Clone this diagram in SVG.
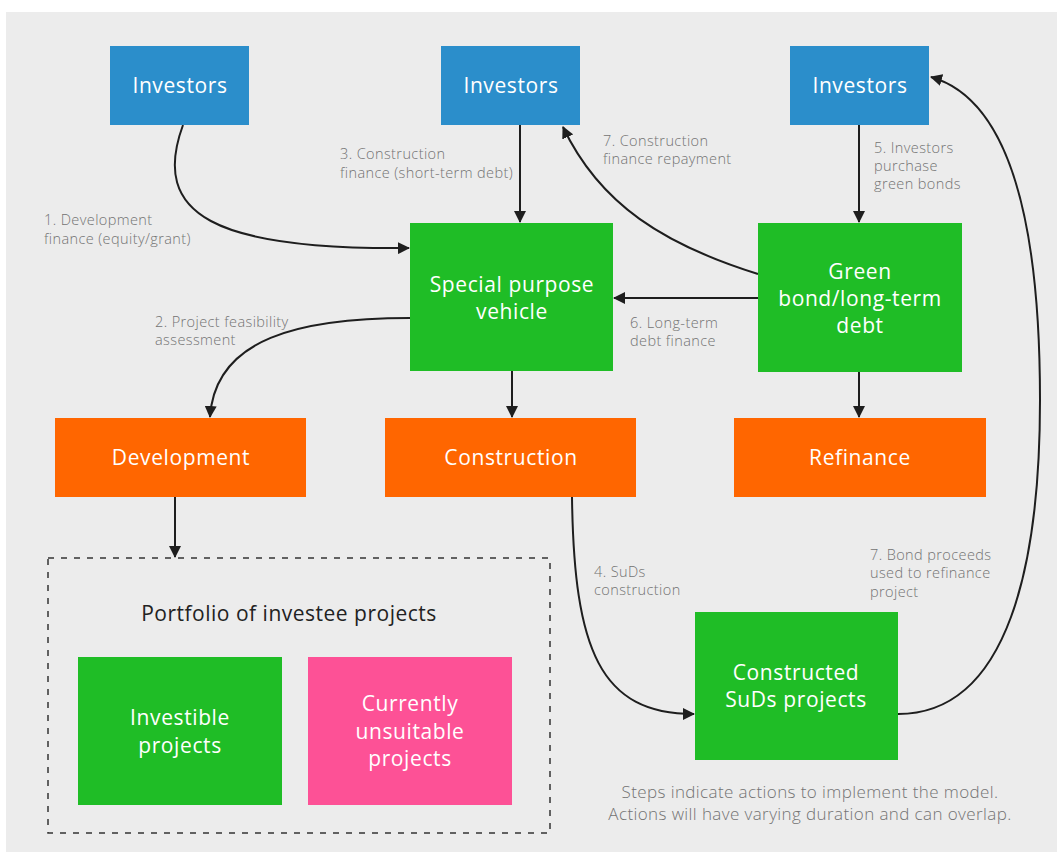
<svg xmlns="http://www.w3.org/2000/svg" width="1057" height="855" viewBox="0 0 1057 855">
  <defs>
    <marker id="arrow" viewBox="0 0 12 12" refX="11" refY="6" markerWidth="12" markerHeight="12" markerUnits="userSpaceOnUse" orient="auto">
      <path d="M0,0 L12,6 L0,12 Z" fill="#1e1e1e"/>
    </marker>
    <style>
      .blue { fill: #2b8ecb; }
      .green { fill: #1fbd26; }
      .orange { fill: #ff6600; }
      .pink { fill: #fd5196; }
      .node { font-family: "Open Sans", Lato, "Liberation Sans", sans-serif; font-size: 21px; letter-spacing: 0.6px; fill: #ffffff; text-anchor: middle; }
      .lbl { font-family: "Open Sans", Lato, "Liberation Sans", sans-serif; font-size: 14.5px; letter-spacing: 0.4px; font-weight: 300; fill: #737373; }
      .note { font-family: "Open Sans", Lato, "Liberation Sans", sans-serif; font-size: 17px; letter-spacing: 0.4px; font-weight: 300; fill: #737373; text-anchor: middle; }
      .title { font-family: "Open Sans", Lato, "Liberation Sans", sans-serif; font-size: 21px; letter-spacing: 0.5px; fill: #222222; text-anchor: middle; }
      .edge { fill: none; stroke: #1e1e1e; stroke-width: 2; marker-end: url(#arrow); }
    </style>
  </defs>

  <rect x="0" y="0" width="1057" height="855" fill="#ffffff"/>
  <rect x="6" y="12" width="1051" height="840" fill="#ececec"/>

  <!-- portfolio container -->
  <g id="portfolio">
    <rect x="48" y="558" width="502" height="275" fill="none" stroke="#333333" stroke-width="1.5" stroke-dasharray="6,7"/>
    <text class="title" x="289" y="621">Portfolio of investee projects</text>
  </g>

  <!-- connectors -->
  <g id="connectors">
    <path class="edge" d="M183,125 C150,215 215,250 409,248"/>
    <path class="edge" d="M410,318 C300,318 215,338 210,417"/>
    <path class="edge" d="M520,125 L520,222"/>
    <path class="edge" d="M758,274 C665,245 600,205 563,127"/>
    <path class="edge" d="M859,125 L859,222"/>
    <path class="edge" d="M758,298 L614,298"/>
    <path class="edge" d="M512,371 L512,417"/>
    <path class="edge" d="M859,372 L859,417"/>
    <path class="edge" d="M175,497 L175,557"/>
    <path class="edge" d="M572,497 C574,650 600,714 694,714"/>
    <path class="edge" d="M898,714 C1010,714 1040,560 1040,400 C1040,230 1012,100 931,77"/>
  </g>

  <!-- connector labels -->
  <g id="labels">
    <text class="lbl" x="44" y="225">1. Development</text>
    <text class="lbl" x="44" y="244">finance (equity/grant)</text>
    <text class="lbl" x="340" y="159">3. Construction</text>
    <text class="lbl" x="340" y="178">finance (short-term debt)</text>
    <text class="lbl" x="603" y="146">7. Construction</text>
    <text class="lbl" x="603" y="164">finance repayment</text>
    <text class="lbl" x="874" y="153">5. Investors</text>
    <text class="lbl" x="874" y="171">purchase</text>
    <text class="lbl" x="874" y="189">green bonds</text>
    <text class="lbl" x="155" y="327">2. Project feasibility</text>
    <text class="lbl" x="155" y="345">assessment</text>
    <text class="lbl" x="630" y="328">6. Long-term</text>
    <text class="lbl" x="630" y="346">debt finance</text>
    <text class="lbl" x="594" y="577">4. SuDs</text>
    <text class="lbl" x="594" y="595">construction</text>
    <text class="lbl" x="870" y="560">7. Bond proceeds</text>
    <text class="lbl" x="870" y="578">used to refinance</text>
    <text class="lbl" x="870" y="597">project</text>
  </g>

  <!-- nodes -->
  <g id="investors-1">
    <rect class="blue" x="110" y="46" width="139" height="79"/>
    <text class="node" x="180" y="93">Investors</text>
  </g>
  <g id="investors-2">
    <rect class="blue" x="441" y="46" width="139" height="79"/>
    <text class="node" x="511" y="93">Investors</text>
  </g>
  <g id="investors-3">
    <rect class="blue" x="790" y="46" width="139" height="79"/>
    <text class="node" x="860" y="93">Investors</text>
  </g>
  <g id="spv">
    <rect class="green" x="410" y="223" width="203" height="148"/>
    <text class="node" x="512" y="292">Special purpose</text>
    <text class="node" x="512" y="319">vehicle</text>
  </g>
  <g id="green-bond">
    <rect class="green" x="758" y="223" width="204" height="149"/>
    <text class="node" x="860" y="279">Green</text>
    <text class="node" x="860" y="306">bond/long-term</text>
    <text class="node" x="860" y="333">debt</text>
  </g>
  <g id="development">
    <rect class="orange" x="55" y="418" width="251" height="79"/>
    <text class="node" x="181" y="465">Development</text>
  </g>
  <g id="construction">
    <rect class="orange" x="385" y="418" width="251" height="79"/>
    <text class="node" x="511" y="465">Construction</text>
  </g>
  <g id="refinance">
    <rect class="orange" x="734" y="418" width="252" height="79"/>
    <text class="node" x="860" y="465">Refinance</text>
  </g>
  <g id="constructed-suds">
    <rect class="green" x="695" y="612" width="203" height="148"/>
    <text class="node" x="796" y="680">Constructed</text>
    <text class="node" x="796" y="707">SuDs projects</text>
  </g>
  <g id="investible">
    <rect class="green" x="78" y="657" width="204" height="148"/>
    <text class="node" x="180" y="725">Investible</text>
    <text class="node" x="180" y="753">projects</text>
  </g>
  <g id="unsuitable">
    <rect class="pink" x="308" y="657" width="204" height="148"/>
    <text class="node" x="410" y="711">Currently</text>
    <text class="node" x="410" y="739">unsuitable</text>
    <text class="node" x="410" y="766">projects</text>
  </g>

  <!-- footnote -->
  <g id="footnote">
    <text class="note" x="810" y="798">Steps indicate actions to implement the model.</text>
    <text class="note" x="810" y="820">Actions will have varying duration and can overlap.</text>
  </g>
</svg>
